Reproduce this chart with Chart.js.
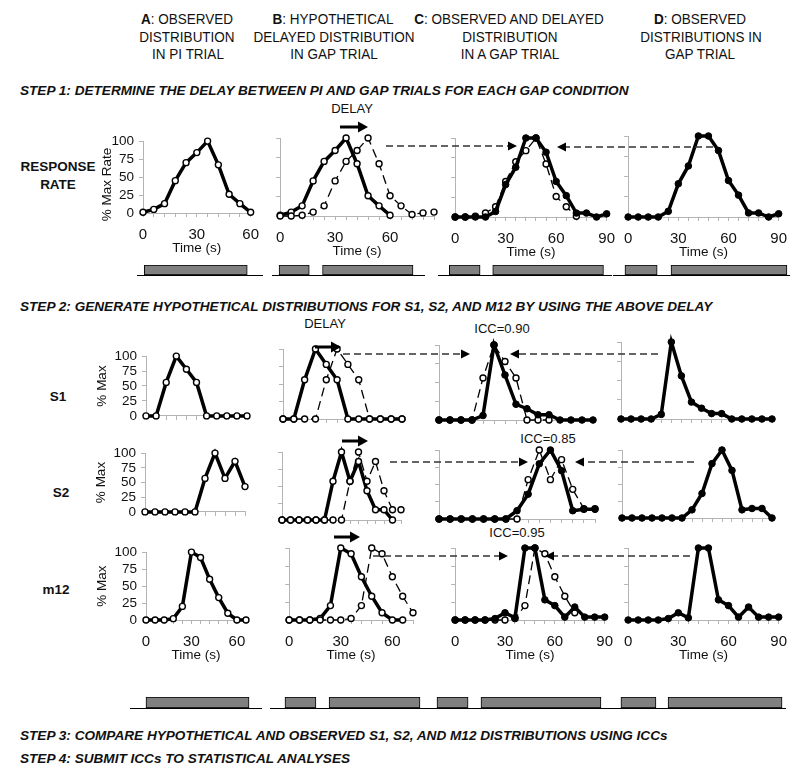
<!DOCTYPE html>
<html>
<head>
<meta charset="utf-8">
<script src="https://cdn.jsdelivr.net/npm/chart.js@4.4.0/dist/chart.umd.min.js"></script>
<style>
  body{margin:0;width:800px;height:766px;position:relative;overflow:hidden;background:#fff;
       font-family:"Liberation Sans",Arial,sans-serif;color:#111}
  canvas{position:absolute}
  .h{position:absolute;white-space:nowrap;transform:translate(-50%,-50%) scaleX(0.9);font-size:15px;line-height:1}
  .t{position:absolute;white-space:nowrap;transform:translate(-50%,-50%);font-size:13px;line-height:1}
  .step{position:absolute;left:20px;white-space:nowrap;transform:translateY(-50%);font-size:13.6px;
        font-weight:bold;font-style:italic;line-height:1}
  .row{position:absolute;white-space:nowrap;transform:translate(-50%,-50%);font-size:13.5px;font-weight:bold;line-height:1}
  svg{position:absolute;left:0;top:0}
</style>
</head>
<body>

<!-- column headers -->
<div class="h" style="left:187px;top:18px"><b>A</b>: OBSERVED</div>
<div class="h" style="left:187px;top:35.5px">DISTRIBUTION</div>
<div class="h" style="left:188px;top:52.5px">IN PI TRIAL</div>
<div class="h" style="left:333px;top:18px"><b>B</b>: HYPOTHETICAL</div>
<div class="h" style="left:334px;top:35.5px">DELAYED DISTRIBUTION</div>
<div class="h" style="left:334px;top:52.5px">IN GAP TRIAL</div>
<div class="h" style="left:509px;top:18px"><b>C</b>: OBSERVED AND DELAYED</div>
<div class="h" style="left:510px;top:35.5px">DISTRIBUTION</div>
<div class="h" style="left:510px;top:52.5px">IN A GAP TRIAL</div>
<div class="h" style="left:700px;top:18px"><b>D</b>: OBSERVED</div>
<div class="h" style="left:701px;top:35.5px">DISTRIBUTIONS IN</div>
<div class="h" style="left:700px;top:52.5px">GAP TRIAL</div>

<div class="step" style="top:91px">STEP 1: DETERMINE THE DELAY BETWEEN PI AND GAP TRIALS FOR EACH GAP CONDITION</div>
<div class="step" style="top:307px">STEP 2: GENERATE HYPOTHETICAL DISTRIBUTIONS FOR S1, S2, AND M12 BY USING THE ABOVE DELAY</div>
<div class="step" style="top:736px">STEP 3: COMPARE HYPOTHETICAL AND OBSERVED S1, S2, AND M12 DISTRIBUTIONS USING ICCs</div>
<div class="step" style="top:759px">STEP 4: SUBMIT ICCs TO STATISTICAL ANALYSES</div>

<!-- row labels -->
<div class="row" style="left:58px;top:167px">RESPONSE</div>
<div class="row" style="left:58px;top:185px">RATE</div>
<div class="row" style="left:58px;top:397px">S1</div>
<div class="row" style="left:61px;top:493px">S2</div>
<div class="row" style="left:56px;top:590px">m12</div>

<div class="t" style="left:352px;top:108px">DELAY</div>
<div class="t" style="left:325px;top:323px">DELAY</div>
<div class="t" style="left:502px;top:328px">ICC=0.90</div>
<div class="t" style="left:548px;top:438px">ICC=0.85</div>
<div class="t" style="left:517px;top:532px">ICC=0.95</div>

<script>
// step 1: response rate (% of max), one value every 6 s
const piTrial     = [1, 5, 13, 45, 70, 84, 100, 67, 26, 13, 1];
const piDelayed   = [0, 0, 1, 5, 13, 45, 70, 84, 100, 67, 26, 13, 2, 4, 5];
const gapObserved = [0, 0, 0, 0, 7, 41, 63, 100, 100, 82, 45, 27, 5, 5, 0, 4];
const gapDelayed  = [0, 0, 1, 5, 13, 45, 70, 84, 100, 67, 26, 13, 1];

// step 2: S1
const s1Pi       = [0, 0, 56, 100, 78, 56, 0, 0, 0, 0, 0];
const s1PiB      = [0, 0, 56, 100, 78, 56, 0, 0, 0, 0, 0, 0];
const s1Delayed  = [0, 0, 0, 0, 56, 100, 78, 56, 0, 0, 0, 0];
const s1GapC     = [0, 0, 0, 0, 6, 100, 60, 21, 15, 7, 7, 0, 0, 0, 0];
const s1DelayedC = [0, 0, 0, 0, 56, 100, 78, 56, 0, 0, 0];
const s1Gap      = [0, 0, 0, 0, 6, 100, 56, 22, 14, 7, 7, 0, 0, 0, 0, 0];

// S2
const s2Pi       = [0, 0, 0, 0, 0, 0, 57, 100, 57, 86, 43];
const s2PiB      = [0, 0, 0, 0, 0, 0, 57, 100, 57, 86, 43, 15, 15, 0];
const s2Delayed  = [0, 0, 0, 0, 0, 0, 0, 0, 57, 100, 57, 86, 43, 15, 15];
const s2GapC     = [0, 0, 0, 0, 0, 0, 0, 12, 36, 80, 100, 70, 12, 14, 14];
const s2Gap      = [0, 0, 0, 0, 0, 0, 0, 12, 36, 80, 100, 70, 12, 14, 14, 0];

// m12
const m12Pi      = [0, 0, 0, 2, 20, 100, 92, 60, 33, 10, 0, 0];
const m12Delayed = [0, 0, 0, 0, 0, 0, 2, 20, 100, 92, 60, 33, 10];
const m12Gap     = [0, 0, 0, 0, 2, 10, 3, 100, 100, 28, 20, 4, 18, 4, 4, 4];

// signal timing (s) drawn under the panels
const piSignal1   = [[0.5, 56]];
const gapSignalB1 = [[2.5, 18.4], [25.4, 73]];
const gapSignalC1 = [[0, 17.3], [24.4, 86.6]];
const gapSignalD1 = [[1.5, 19.6], [27.4, 92.6]];
const piSignal4   = [[0, 68]];
const gapSignalB4 = [[1.1, 18.3], [25.6, 76.1]];
const gapSignalC4 = [[-6.8, 10.8], [18.1, 86]];
const gapSignalD4 = [[-0.6, 19.1], [25.9, 90]];

const timeTicks = ['0', '30', '60', '90'];
const secs = n => Array.from({length: n}, (_, i) => String(6 * i));

const AXIS = '#b4b4b4';
const FONT = '"Liberation Sans", Arial, sans-serif';

const observed = (d, o) => ({data: d, borderColor: '#000', borderWidth: 3.5, pointRadius: 3,
  pointBackgroundColor: '#fff', pointBorderColor: '#000', pointBorderWidth: 1.4, order: o, clip: false});
const delayed = (d, o) => ({data: d, borderColor: '#000', borderWidth: 1.3, borderDash: [9, 5], pointRadius: 3,
  pointBackgroundColor: '#fff', pointBorderColor: '#000', pointBorderWidth: 1.4, order: o, clip: false});
const filled = (d, o) => ({data: d, borderColor: '#000', borderWidth: 3.5, pointRadius: 3.3,
  pointBackgroundColor: '#000', pointBorderColor: '#000', pointBorderWidth: 1, order: o, clip: false});

function addCanvas(left, top, w, h) {
  const c = document.createElement('canvas');
  c.width = w; c.height = h;
  c.style.left = left + 'px'; c.style.top = top + 'px';
  c.style.width = w + 'px'; c.style.height = h + 'px';
  document.body.appendChild(c);
  return c;
}

// box = plot area on the page [left, right, top, bottom]
function panel(box, n, sets, ax = {}) {
  const yw = ax.yTitle ? ax.yw : 5;
  const xh = ax.xLabels ? 47 : 5;
  const pad = {left: 2, right: 14, top: 9, bottom: 2};
  const w = Math.round(box[1] - box[0] + yw + pad.left + pad.right);
  const h = Math.round(box[3] - box[2] + xh + pad.top + pad.bottom);
  const c = addCanvas(Math.round(box[0] - yw - pad.left), Math.round(box[2] - pad.top), w, h);
  const labels = ax.xLabels ? secs(n) : Array.from({length: n}, (_, i) => String(i));
  new Chart(c, {
    type: 'line',
    data: {labels: labels, datasets: sets},
    options: {
      responsive: false, animation: false, devicePixelRatio: 1,
      layout: {padding: pad},
      plugins: {legend: {display: false}, tooltip: {enabled: false}},
      scales: {
        x: {
          type: 'category', offset: false,
          grid: {drawOnChartArea: false, color: AXIS, tickLength: 4},
          border: {color: AXIS},
          ticks: {display: !!ax.xLabels, autoSkip: false, maxRotation: 0, padding: 9, color: '#111',
                  font: {family: FONT, size: 15},
                  callback: function (v) { const l = this.getLabelForValue(v); return timeTicks.includes(l) ? l : ''; }},
          title: {display: !!ax.xLabels, text: 'Time (s)', color: '#111', font: {family: FONT, size: 13.5}},
          afterFit: s => { s.height = xh; }
        },
        y: {
          min: 0, max: 100,
          grid: {drawOnChartArea: false, color: AXIS, tickLength: 4},
          border: {color: AXIS},
          ticks: {display: !!ax.yTitle, autoSkip: false, stepSize: 25, padding: 5, color: '#111',
                  font: {family: FONT, size: 13.5}},
          title: {display: !!ax.yTitle, text: ax.yTitle || '', color: '#111', font: {family: FONT, size: 13.5}},
          afterFit: s => { s.width = yw; }
        }
      }
    }
  });
}

// grey signal bars on a black base line; zero/pps give the seconds scale of the panel above
function timeline(box, zero, pps, bars) {
  const c = addCanvas(box[0], box[2], box[1] - box[0], box[3] - box[2] + 1);
  new Chart(c, {
    type: 'bar',
    data: {labels: ['s'], datasets: [{
      data: bars.map(b => ({x: b, y: 's'})),
      backgroundColor: '#808080', borderColor: '#000', borderWidth: 1, borderSkipped: false,
      barPercentage: 1, categoryPercentage: 1
    }]},
    options: {
      indexAxis: 'y', responsive: false, animation: false, devicePixelRatio: 1,
      layout: {padding: 0},
      plugins: {legend: {display: false}, tooltip: {enabled: false}},
      scales: {
        x: {type: 'linear', min: (box[0] - zero) / pps, max: (box[1] - zero) / pps,
            grid: {display: false}, ticks: {display: false}, border: {color: '#000', width: 1},
            afterFit: s => { s.height = 1; }},
        y: {display: false}
      }
    }
  });
}

// step 1 (trailing spaces push the rotated title a little lower, as in the original)
panel([143.3, 254.7, 137, 213.3], 11, [observed(piTrial, 0)], {yTitle: '% Max Rate    ', yw: 48, xLabels: true});
panel([274.3, 434, 137.7, 215.7], 15, [observed(piTrial, 1), delayed(piDelayed, 0)], {xLabels: true});
panel([449.3, 610, 137.5, 216.5], 16, [filled(gapObserved, 0), delayed(gapDelayed, 1)], {xLabels: true});
panel([622.3, 782.3, 136, 216.5], 16, [filled(gapObserved, 0)], {xLabels: true});

timeline([137, 263, 264.5, 274.5], 143.3, 1.856, piSignal1);
timeline([272, 425, 264.5, 274.5], 274.3, 1.9, gapSignalB1);
timeline([438, 612, 264.5, 274.5], 449.3, 1.78, gapSignalC1);
timeline([613, 790, 264.5, 274.5], 622.3, 1.778, gapSignalD1);

// S1
panel([146, 246.7, 351.7, 421.7], 11, [observed(s1Pi, 0)], {yTitle: '% Max', yw: 56});
panel([283.3, 402.3, 349.3, 419.3], 12, [observed(s1PiB, 1), delayed(s1Delayed, 0)]);
panel([439.3, 593.3, 345, 420], 15, [filled(s1GapC, 0), delayed(s1DelayedC, 1)]);
panel([620.7, 771.7, 341.7, 418.3], 16, [filled(s1Gap, 0)]);

// S2
panel([145, 245, 449.3, 518.3], 11, [observed(s2Pi, 0)], {yTitle: '% Max', yw: 56});
panel([281.7, 401, 451.7, 520], 15, [observed(s2PiB, 1), delayed(s2Delayed, 0)]);
panel([439.3, 595, 450, 519.3], 15, [filled(s2GapC, 0), delayed(s2Delayed, 1)]);
panel([622, 772, 450, 518], 16, [filled(s2Gap, 0)]);

// m12
panel([146, 246, 548, 620], 12, [observed(m12Pi, 0)], {yTitle: '% Max', yw: 56, xLabels: true});
panel([283, 413, 548, 620], 13, [observed(m12Pi, 1), delayed(m12Delayed, 0)], {xLabels: true});
panel([449, 608, 548, 620], 16, [filled(m12Gap, 0), delayed(m12Delayed, 1)], {xLabels: true});
panel([622, 782, 548, 620], 16, [filled(m12Gap, 0)], {xLabels: true});

timeline([130, 262, 697, 708], 146, 1.515, piSignal4);
timeline([270, 432, 697, 708], 283, 1.8, gapSignalB4);
timeline([430, 612, 697, 708], 449, 1.767, gapSignalC4);
timeline([611, 786, 697, 708], 622, 1.778, gapSignalD4);
</script>

<!-- delay arrows and dashed guide arrows -->
<svg width="800" height="766">
  <g stroke="#000" stroke-width="3" fill="#000">
    <line x1="340" y1="127" x2="360" y2="127"/><polygon stroke="none" points="358,121.5 368,127 358,132.5"/>
    <line x1="315" y1="347" x2="333" y2="347"/><polygon stroke="none" points="331,341.5 341,347 331,352.5"/>
    <line x1="342" y1="441" x2="360" y2="441"/><polygon stroke="none" points="358,435.5 368,441 358,446.5"/>
    <line x1="334" y1="537" x2="352" y2="537"/><polygon stroke="none" points="350,531.5 360,537 350,542.5"/>
  </g>
  <g stroke="#333" stroke-width="1.3" stroke-dasharray="7 4" fill="none">
    <line x1="386" y1="146" x2="508" y2="146"/>
    <line x1="713" y1="147" x2="566" y2="147"/>
    <line x1="343" y1="354" x2="461" y2="354"/>
    <line x1="658" y1="354" x2="519" y2="354"/>
    <line x1="390" y1="462" x2="519" y2="462"/>
    <line x1="694" y1="462" x2="584" y2="462"/>
    <line x1="373" y1="556" x2="499" y2="556"/>
    <line x1="690" y1="556" x2="554" y2="556"/>
  </g>
  <g fill="#000">
    <polygon points="508,141.5 517,146 508,150.5"/>
    <polygon points="566,142.5 557,147 566,151.5"/>
    <polygon points="461,349.5 470,354 461,358.5"/>
    <polygon points="519,349.5 510,354 519,358.5"/>
    <polygon points="519,457.5 528,462 519,466.5"/>
    <polygon points="584,457.5 575,462 584,466.5"/>
    <polygon points="499,551.5 508,556 499,560.5"/>
    <polygon points="554,551.5 545,556 554,560.5"/>
  </g>
</svg>
</body>
</html>
